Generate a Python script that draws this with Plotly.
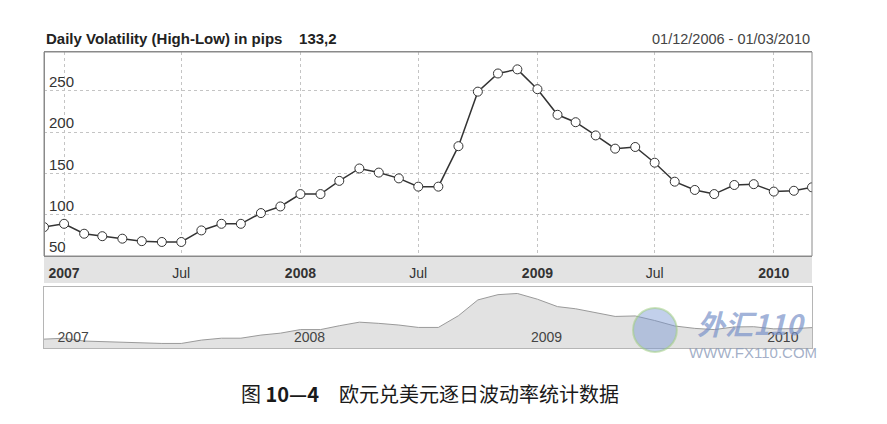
import pandas as pd
import plotly.graph_objects as go

# === Dati: volatilità giornaliera media (pips), un punto al mese ===
months = pd.date_range("2006-12-01", "2010-03-01", freq="MS")
volatility = [85, 89, 77, 74, 71, 68, 67, 67, 81, 89, 89, 102, 110, 125, 125,
              141, 156, 151, 144, 134, 134, 183, 249, 271, 276, 252, 221, 212,
              196, 180, 182, 163, 140, 130, 125, 136, 137, 128, 129, 133.2]

main_tick_dates = ["2007-01-01", "2007-07-01", "2008-01-01", "2008-07-01",
                   "2009-01-01", "2009-07-01", "2010-01-01"]
main_tick_text = ["<b>2007</b>", "Jul", "<b>2008</b>", "Jul",
                  "<b>2009</b>", "Jul", "<b>2010</b>"]
nav_tick_dates = ["2007-01-01", "2008-01-01", "2009-01-01", "2010-01-01"]
nav_tick_text = ["2007", "2008", "2009", "2010"]
y_ticks = [50, 100, 150, 200, 250]

title_text = "Daily Volatility (High-Low) in pips&nbsp;&nbsp;&nbsp; 133,2"
range_text = "01/12/2006 - 01/03/2010"
caption = "图 <b>10—4</b>　欧元兑美元逐日波动率统计数据"

FONT = "Liberation Sans, Arial, sans-serif"
CJK = "Noto Sans CJK SC"

fig = go.Figure()

# === Grafico principale ===
fig.add_trace(go.Scatter(
	x=months, y=volatility, mode="lines+markers",
	line=dict(color="#333333", width=1.5),
	marker=dict(size=9, color="white", line=dict(color="#333333", width=1)),
	xaxis="x", yaxis="y", showlegend=False, hoverinfo="x+y"
))

# === Navigatore (area) ===
fig.add_trace(go.Scatter(
	x=months, y=volatility, mode="lines", fill="tozeroy",
	fillcolor="#e2e2e2", line=dict(color="#9a9a9a", width=1),
	xaxis="x2", yaxis="y2", showlegend=False, hoverinfo="skip"
))

# la pagina ha 8px di margine sul body: la figura parte da (8, 8)
fig.update_layout(
	width=879, height=416, autosize=False,
	margin=dict(l=36, r=75, t=0, b=0),
	paper_bgcolor="white", plot_bgcolor="white",
	font=dict(family=FONT, size=14, color="#333333"),
	xaxis=dict(
		domain=[0, 1], anchor="y", range=[months[0], months[-1]],
		tickvals=main_tick_dates, ticktext=main_tick_text, ticks="",
		ticklabelstandoff=4,
		showgrid=True, gridcolor="#c4c4c4", griddash="dot",
		showline=True, mirror=True, linecolor="#8a8a8a", zeroline=False,
		tickfont=dict(size=14, color="#333333")
	),
	# asse y "libero" sul bordo sinistro con etichette a destra (dentro il grafico)
	yaxis=dict(
		domain=[0.4038, 0.8942], anchor="free", position=0, side="right",
		range=[50, 297], tickvals=y_ticks, ticks="",
		ticklabelshift=-9, ticklabelstandoff=1,
		showgrid=True, gridcolor="#c4c4c4", griddash="dot",
		showline=True, mirror=True, linecolor="#8a8a8a", zeroline=False,
		tickfont=dict(size=15, color="#333333")
	),
	xaxis2=dict(
		domain=[0, 1], anchor="y2", range=[months[0], months[-1]],
		tickvals=nav_tick_dates, ticktext=nav_tick_text, ticks="",
		ticklabelposition="inside right", ticklabelshift=-7, showgrid=False,
		showline=True, mirror=True, linecolor="#b5b5b5", zeroline=False,
		tickfont=dict(size=14, color="#444444")
	),
	yaxis2=dict(
		domain=[0.1827, 0.3293], anchor="x2", range=[48, 303],
		showticklabels=False, showgrid=False, zeroline=False,
		showline=True, mirror=True, linecolor="#b5b5b5"
	),
	shapes=[
		# banda grigia sotto l'asse x
		dict(type="rect", xref="paper", yref="paper", x0=0, x1=1,
			 y0=0.3389, y1=0.4038, fillcolor="#e3e3e3", line=dict(width=0),
			 layer="below"),
		# cornice del grafico principale
		dict(type="rect", xref="paper", yref="paper", x0=0, x1=1,
			 y0=0.4038, y1=0.8942, line=dict(color="#8a8a8a", width=1)),
		# logo watermark
		dict(type="circle", xref="paper", yref="paper", x0=0.767, x1=0.824,
			 y0=0.1731, y1=0.2788, fillcolor="rgba(120,150,210,0.45)",
			 line=dict(color="rgba(160,205,130,0.55)", width=2))
	],
	annotations=[
		dict(text="<b>" + title_text + "</b>", xref="paper", yref="paper",
			 x=0, y=0.9255, xanchor="left", yanchor="middle", showarrow=False,
			 font=dict(size=15, color="#222222")),
		dict(text=range_text, xref="paper", yref="paper",
			 x=1, y=0.9255, xanchor="right", yanchor="middle", showarrow=False,
			 font=dict(size=14.5, color="#444444")),
		dict(text="<b><i>外汇110</i></b>", xref="paper", yref="paper",
			 x=0.9206, y=0.2428, xanchor="center", yanchor="middle", showarrow=False,
			 font=dict(family=CJK, size=28, color="rgba(120,145,200,0.7)")),
		dict(text="WWW.FX110.COM", xref="paper", yref="paper",
			 x=0.923, y=0.1707, xanchor="center", yanchor="middle", showarrow=False,
			 font=dict(size=15, color="rgba(140,155,185,0.8)")),
		dict(text=caption, xref="paper", yref="paper",
			 x=0.5026, y=0.0745, xanchor="center", yanchor="middle", showarrow=False,
			 font=dict(family=CJK, size=20, color="#1a1a1a")),
	]
)

fig.write_html("out.html")
